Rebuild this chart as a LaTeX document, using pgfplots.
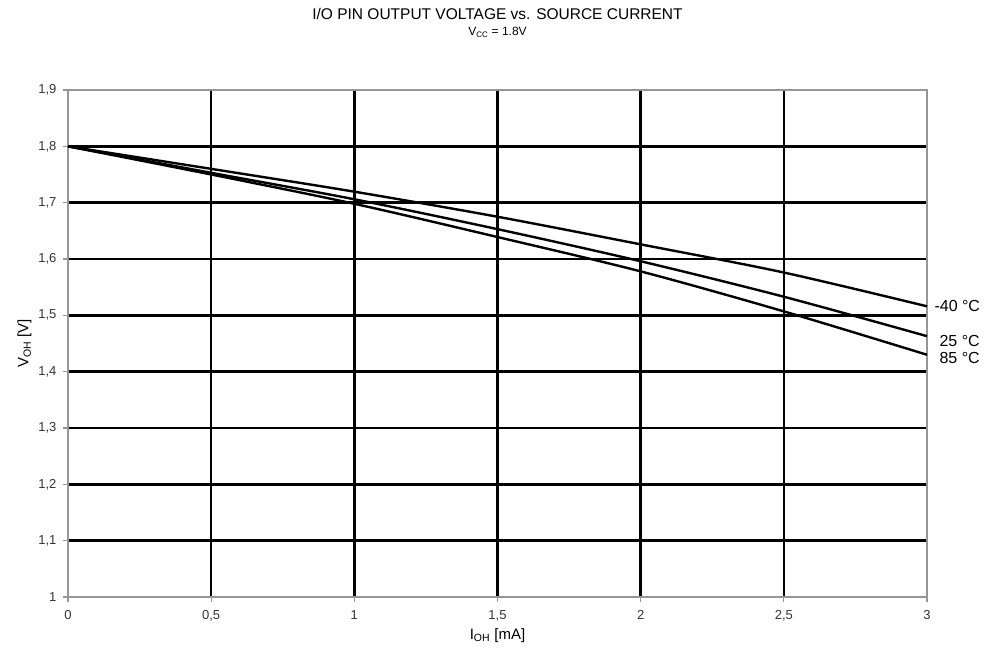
\documentclass[border=0pt]{standalone}
\usepackage{fontspec}
\setmainfont{Liberation Sans}
\usepackage{pgfplots}
\pgfplotsset{compat=1.18}
\definecolor{axgray}{RGB}{150,150,150}
\begin{document}
\begin{tikzpicture}
\begin{axis}[
  name=ax,
  scale only axis,
  width=859pt, height=507pt,
  xmin=0, xmax=3, ymin=1, ymax=1.9,
  xtick={0,0.5,...,3},
  ytick={1,1.1,1.2,1.3,1.4,1.5,1.6,1.7,1.8,1.9},
  /pgf/number format/.cd, use comma, fixed, assume math mode=true, /pgfplots/.cd,
  yticklabel style={/pgf/number format/precision=1},
  tick label style={font=\fontsize{13}{15}\selectfont, text=black!80},
  xticklabel style={yshift=-5pt},
  yticklabel style={xshift=-3pt},
  grid=major,
  major grid style={black, line width=2.4pt},
  axis line style={axgray, line width=2.4pt},
  tick style={axgray, line width=1.3pt},
  tick align=outside,
  major tick length=5pt,
  xtick pos=bottom, ytick pos=left,
  xlabel={I\textsubscript{OH} [mA]},
  ylabel={V\textsubscript{OH} [V]},
  label style={font=\fontsize{15}{17}\selectfont},
  clip=false,
]
\addplot[black, line width=2.4pt, smooth] coordinates {
 (0,1.8) (0.5,1.760) (1,1.7195) (1.5,1.675) (2,1.626) (2.5,1.576) (3,1.516)};
\addplot[black, line width=2.4pt, smooth] coordinates {
 (0,1.8) (0.5,1.753) (1,1.706) (1.5,1.653) (2,1.596) (2.5,1.533) (3,1.463)};
\addplot[black, line width=2.4pt, smooth] coordinates {
 (0,1.8) (0.5,1.750) (1,1.698) (1.5,1.639) (2,1.578) (2.5,1.507) (3,1.430)};
\node[anchor=west, font=\fontsize{16}{18}\selectfont, xshift=4pt] at (axis cs:3,1.517) {-40 °C};
\node[anchor=west, font=\fontsize{16}{18}\selectfont, xshift=9pt] at (axis cs:3,1.455) {25 °C};
\node[anchor=west, font=\fontsize{16}{18}\selectfont, xshift=9pt] at (axis cs:3,1.425) {85 °C};
\end{axis}
\node[font=\fontsize{15.5}{17}\selectfont] at ([yshift=76pt]ax.north) {I/O PIN OUTPUT VOLTAGE vs. SOURCE CURRENT};
\node[font=\fontsize{12}{14}\selectfont] at ([yshift=58pt]ax.north) {V\textsubscript{CC} = 1.8V};
\path[use as bounding box] ([xshift=-68pt,yshift=-55pt]ax.south west) rectangle ([xshift=63pt,yshift=90pt]ax.north east);
\end{tikzpicture}
\end{document}
